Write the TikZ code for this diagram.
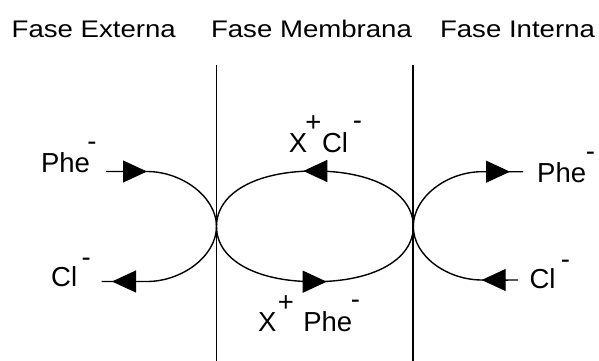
\documentclass[tikz,border=0pt]{standalone}
\usepackage{fontspec}
\setmainfont{Liberation Sans}
\usetikzlibrary{arrows.meta}
\begin{document}
\begin{tikzpicture}[x=1pt,y=-1pt,
  phase/.style={inner sep=0pt,anchor=base,font=\fontsize{24}{24}\selectfont},
  species/.style={inner sep=0pt,anchor=base,font=\fontsize{27.5}{30}\selectfont},
  charge/.style={inner sep=0pt,anchor=base,font=\fontsize{27.5}{30}\selectfont},
  wall/.style={line width=1.8pt},
  flow/.style={line width=1.4pt},
  head/.style={line width=1pt,-{Triangle[length=24pt,width=22pt]}}]
\useasboundingbox (0,0) rectangle (599,361);

% phase titles
\node[phase] (ext) at (93.8,37.3) {\scalebox{1.15}[1]{Fase Externa}};
\node[phase] (mem) at (311.5,37.3) {\scalebox{1.15}[1]{Fase Membrana}};
\node[phase] (int) at (517.5,37.3) {\scalebox{1.15}[1]{Fase Interna}};

% membrane boundaries
\coordinate (lt) at (216.5,65);
\coordinate (lb) at (216.5,361);
\coordinate (rt) at (413.3,65);
\coordinate (rb) at (413.3,361);
\draw[wall] (lt) -- (lb);
\draw[wall] (rt) -- (rb);

% contact points on the boundaries
\coordinate (lc) at (216.5,226.5);
\coordinate (rc) at (413.3,226.5);

% external phase species
\node[species] (phe1) at (65.5,172.3) {Phe};
\node[charge]  (phe1c) at (92,150) {-};
\node[species] (cl1) at (64.2,286) {Cl};
\node[charge]  (cl1c) at (86.3,266.7) {-};

% membrane phase species
\node[species] (x1) at (298,152) {X};
\node[charge]  (x1c) at (313.5,131.8) {+};
\node[species] (cl2) at (335,152) {Cl};
\node[charge]  (cl2c) at (357.5,129.4) {-};
\node[species] (x2) at (267.2,331.7) {X};
\node[charge]  (x2c) at (286,311.3) {+};
\node[species] (phe2) at (327.8,331.7) {Phe};
\node[charge]  (phe2c) at (355.5,308.4) {-};

% internal phase species
\node[species] (phe3) at (561.7,182.7) {Phe};
\node[charge]  (phe3c) at (590.5,160) {-};
\node[species] (cl3) at (542.5,288) {Cl};
\node[charge]  (cl3c) at (565.5,268.4) {-};

% flow ends
\coordinate (a1) at (106,171.5);
\coordinate (a2) at (147,171.5);
\coordinate (b1) at (101.7,281.5);
\coordinate (b2) at (147,281.5);
\coordinate (c1) at (523,171.7);
\coordinate (c2) at (482,171.7);
\coordinate (d1) at (518,280);
\coordinate (d2) at (482,280);
\coordinate (mt) at (314.7,171);
\coordinate (mb) at (314.7,281.7);

% external phase flows
\draw[flow] (a1) -- (a2) .. controls (182,171.5) and (216.5,197) .. (lc);
\draw[flow] (lc) .. controls (216.5,256) and (182,281.5) .. (b2) -- (b1);

% membrane loop
\draw[flow] (lc) .. controls (216.5,193.2) and (255.7,171) .. (mt)
  .. controls (373.7,171) and (413.3,193.2) .. (rc)
  .. controls (413.3,259.6) and (373.7,281.7) .. (mb)
  .. controls (255.7,281.7) and (216.5,259.6) .. (lc);

% internal phase flows
\draw[flow] (rc) .. controls (413.3,197) and (447,171.7) .. (c2) -- (c1);
\draw[flow] (rc) .. controls (413.3,256) and (447,280) .. (d2) -- (d1);

% arrowheads
\draw[head] (122,171.5) -- (147,171.5);
\draw[head] (138,281.5) -- (112,281.5);
\draw[head] (330,171) -- (303.3,171);
\draw[head] (301,281.7) -- (326.7,281.7);
\draw[head] (482,171.7) -- (510,171.7);
\draw[head] (508,280) -- (481.7,280);
\end{tikzpicture}
\end{document}
